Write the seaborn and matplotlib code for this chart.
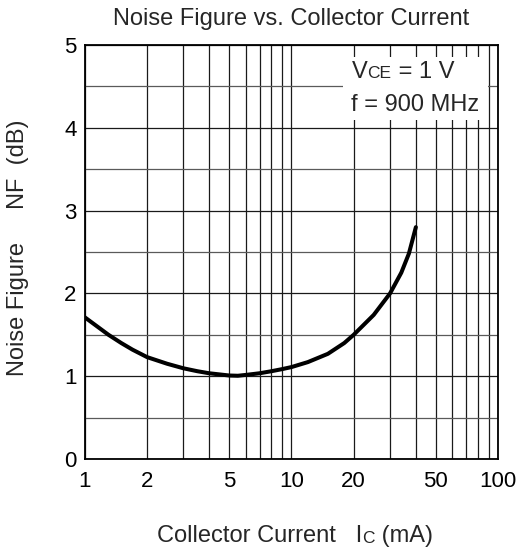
import matplotlib
matplotlib.use("Agg")
import matplotlib.pyplot as plt
import matplotlib.patches as mpatches
import seaborn as sns
import pandas as pd

# NF curve
ic_ma = [1, 1.3, 1.5, 1.7, 2, 2.5, 3, 3.5, 4, 5, 5.5, 6, 7, 8, 9, 10,
         12, 15, 18, 20, 25, 30, 34, 37, 40]
nf_db = [1.71, 1.50, 1.40, 1.32, 1.23, 1.15, 1.095, 1.06, 1.035, 1.008, 1.005,
         1.015, 1.035, 1.06, 1.085, 1.11, 1.17, 1.27, 1.40, 1.50, 1.74, 2.0,
         2.25, 2.48, 2.80]

x_ticks = [1, 2, 5, 10, 20, 50, 100]
x_grid = [1, 2, 3, 4, 5, 6, 7, 8, 9, 10, 20, 30, 40, 50, 60, 70, 80, 90, 100]
y_ticks = [0, 1, 2, 3, 4, 5]
y_half = [0.5, 1.5, 2.5, 3.5, 4.5]

sns.set_style("white")
plt.rcParams["font.family"] = ["Liberation Sans", "DejaVu Sans"]

df = pd.DataFrame({"ic": ic_ma, "nf": nf_db})

fig = plt.figure(figsize=(5.21, 5.49), dpi=100)
ax = fig.add_axes([0.163, 0.164, 0.793, 0.754])

ax.set_xscale("log")
ax.set_xlim(1, 100)
ax.set_ylim(0, 5)

for gx in x_grid:
    ax.axvline(gx, color="#1a1a1a", lw=0.9, zorder=1)
for gy in y_ticks:
    ax.axhline(gy, color="#1a1a1a", lw=0.9, zorder=1)
for gy in y_half:
    ax.axhline(gy, color="#5a5a5a", lw=0.9, zorder=1)

# white panel behind the conditions text
ax.add_patch(mpatches.Rectangle((0.625, 0.819), 0.351, 0.152, transform=ax.transAxes,
                                facecolor="white", edgecolor="none", zorder=2))

sns.lineplot(data=df, x="ic", y="nf", ax=ax, color="black", lw=2.9,
             zorder=3, sort=False)

ax.set_xticks(x_ticks)
ax.set_xticklabels([str(v) for v in x_ticks])
ax.xaxis.set_minor_locator(matplotlib.ticker.NullLocator())
ax.set_yticks(y_ticks)
ax.tick_params(axis="both", length=0, labelsize=16, colors="black")
ax.tick_params(axis="x", pad=9)
ax.tick_params(axis="y", pad=6)
ax.set_xlabel("")
ax.set_ylabel("")

for s in ax.spines.values():
    s.set_color("black")
    s.set_linewidth(1.3)
    s.set_zorder(4)

fs = 17
small = 12.5

# conditions text, "CE" in smaller letters
t1 = ax.text(0.646, 0.921, "V", transform=ax.transAxes, fontsize=fs,
             va="baseline", zorder=5)
t2 = ax.annotate("CE", xy=(1, 0), xycoords=t1, xytext=(0, 1),
                 textcoords="offset points", fontsize=small, va="bottom", zorder=5)
ax.annotate(" = 1 V", xy=(1, 0), xycoords=(t2, t1), fontsize=fs,
            va="bottom", zorder=5)
ax.text(0.644, 0.841, "f = 900 MHz", transform=ax.transAxes, fontsize=fs,
        va="baseline", zorder=5)

fig.text(0.5585, 0.954, "Noise Figure vs. Collector Current", ha="center",
         va="baseline", fontsize=fs)

# x label, "C" of Ic in smaller letters
x1 = fig.text(0.301, 0.0128, "Collector Current   I", fontsize=fs, va="baseline")
x2 = ax.annotate("C", xy=(1, 0), xycoords=x1, xytext=(0, 1),
                 textcoords="offset points", fontsize=small, va="bottom")
ax.annotate(" (mA)", xy=(1, 0), xycoords=(x2, x1), fontsize=fs, va="bottom")

fig.text(0.035, 0.549, "Noise Figure     NF  (dB)", rotation=90, ha="center",
         va="center", fontsize=fs)

fig.savefig("out.png", dpi=100)
